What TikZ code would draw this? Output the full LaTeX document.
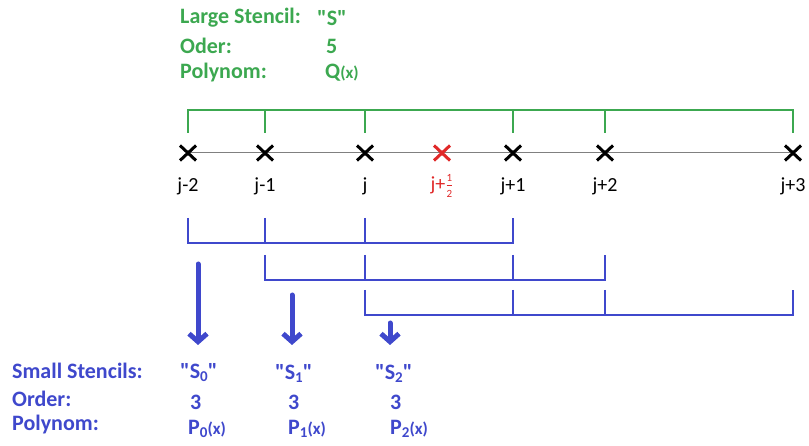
\documentclass[tikz,border=0pt]{standalone}
\usepackage{fontspec}
\setmainfont{Carlito}
\usetikzlibrary{positioning,arrows.meta,shapes.misc}
\definecolor{large}{HTML}{3CA850}
\definecolor{small}{HTML}{3F48CC}
\definecolor{half}{HTML}{E02828}
\newcommand{\lowix}[1]{\raisebox{-3pt}{\fontsize{15}{15}\selectfont #1}}
\newcommand{\argx}{{\fontsize{17}{17}\selectfont (x)}}
\newcommand{\qq}{\textquotedbl}

\begin{document}
\begin{tikzpicture}[x=1pt, y=-1pt,
  pt/.style={cross out, draw=black, line width=3pt, minimum width=13pt, minimum height=12pt, inner sep=0pt},
  hpt/.style={pt, draw=half},
  lab/.style={font=\fontsize{20}{22}\selectfont, inner sep=0pt},
  gtxt/.style={text=large, font=\bfseries\fontsize{22}{24}\selectfont, anchor=west, inner sep=0pt},
  btxt/.style={text=small, font=\bfseries\fontsize{22}{24}\selectfont, anchor=west, inner sep=0pt},
  gbr/.style={draw=large, line width=2.2pt},
  bbr/.style={draw=small, line width=2pt},
  down/.style={draw=small, line width=5pt, line cap=round, -{Straight Barb[length=8pt, width=18pt]}}]
\useasboundingbox (0,0) rectangle (809,446);
% large stencil
\node[gtxt] (lsname) at (180,18) {Large Stencil:};
\node[gtxt] (lsval) at (317,18) {\qq S\qq};
\node[gtxt] (loname) at (180,46) {Oder:};
\node[gtxt] (loval) at (326,46) {5};
\node[gtxt] (lpname) at (180,73) {Polynom:};
\node[gtxt] (lpval) at (325,73) {Q\argx};
\draw[gbr] (188,133) -- (188,110) -- (793,110) -- (793,133);
\foreach \x in {265,365,513,605} \draw[gbr] (\x,110) -- (\x,133);
% grid points
\draw[gray, line width=1pt] (188,153) -- (793,153);
\foreach \n/\x/\t in {m2/188/j-2, m1/265/j-1, j0/365/j, p1/513/j+1, p2/605/j+2, p3/793/j+3} {
  \node[pt] (x\n) at (\x,153) {};
  \node[lab] (l\n) at (\x,186) {\t};
}
\node[hpt] (xh) at (442,153) {};
\node[lab, text=half] (lh) at (442,186) {j+$\frac{\mbox{\fontsize{11}{11}\selectfont 1}}{\mbox{\fontsize{11}{11}\selectfont 2}}$};
% small stencils
\foreach \top/\bot/\a/\b/\c/\d in {218/243/188/265/365/513, 255/280/265/365/513/605, 290/315/365/513/605/793} {
  \draw[bbr] (\a,\top) -- (\a,\bot) -- (\d,\bot) -- (\d,\top);
  \draw[bbr] (\b,\top) -- (\b,\bot);
  \draw[bbr] (\c,\top) -- (\c,\bot);
}
\coordinate (a0s) at (198,264); \coordinate (a0e) at (198,345);
\coordinate (a1s) at (292,295); \coordinate (a1e) at (292,345);
\coordinate (a2s) at (390,323); \coordinate (a2e) at (390,345);
\draw[down] (a0s) -- (a0e);
\draw[down] (a1s) -- (a1e);
\draw[down] (a2s) -- (a2e);
% legend below
\node[btxt] (ssname) at (12,371) {Small Stencils:};
\node[btxt] (soname) at (12,399) {Order:};
\node[btxt] (spname) at (12,425) {Polynom:};
\foreach \i/\x/\y/\z in {0/180/190/188, 1/275/288/288, 2/375/390/390} {
  \node[btxt] (s\i) at (\x,373) {\qq S\lowix{\i}\qq};
  \node[btxt] (o\i) at (\y,402) {3};
  \node[btxt] (p\i) at (\z,429) {P\lowix{\i}\argx};
}
\end{tikzpicture}
\end{document}
